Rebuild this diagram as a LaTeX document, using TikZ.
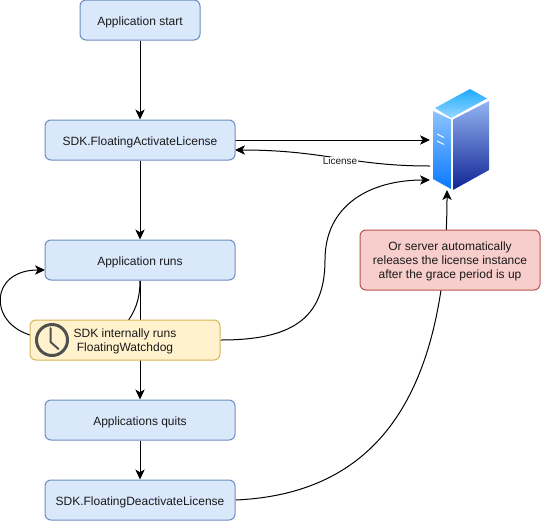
\documentclass[tikz,border=0pt]{standalone}
\usepackage{fontspec}
\setmainfont{Liberation Sans}
\usetikzlibrary{arrows.meta,backgrounds}
\definecolor{bluefill}{HTML}{DAE8FC}
\definecolor{blueline}{HTML}{6C8EBF}
\definecolor{yelfill}{HTML}{FFF2CC}
\definecolor{yelline}{HTML}{D6B656}
\definecolor{redfill}{HTML}{F8CECC}
\definecolor{redline}{HTML}{B85450}
\definecolor{txt}{HTML}{1A1A1A}
\definecolor{clockc}{HTML}{505050}
\tikzset{
 boxbase/.style={draw,rounded corners=4.5pt,line width=0.75pt,inner sep=0pt,align=center,text=txt,font=\fontsize{9}{10.5}\selectfont,minimum height=30pt,minimum width=142.5pt},
 bluebox/.style={boxbase,fill=bluefill,draw=blueline,text height=7.5pt,text depth=0pt},
 yelbox/.style={boxbase,fill=yelfill,draw=yelline},
 redbox/.style={boxbase,fill=redfill,draw=redline,minimum width=135pt,minimum height=45pt},
 boxtext/.style={font=\fontsize{9}{10.5}\selectfont,text=txt,align=center,inner sep=0pt},
 conn/.style={draw=black,line width=0.75pt,-{Stealth[length=7.5pt,width=7pt,inset=2pt]}},
}
\begin{document}
\begin{tikzpicture}[x=0.75pt,y=-0.75pt]
\useasboundingbox (0,0) rectangle (541,521);
\node[bluebox,minimum width=90pt] (start) at (140,20) {Application start};
\node[bluebox] (activate) at (140,140) {SDK.FloatingActivateLicense};
\node[bluebox] (runs) at (140,260) {Application runs};
\node[yelbox] (watch) at (125,340) {};
\node[boxtext] (watchtext) at (125,341) {SDK internally runs\\FloatingWatchdog};
\node[bluebox] (quits) at (140,420) {Applications quits};
\node[bluebox] (deact) at (140,500) {SDK.FloatingDeactivateLicense};
\node[redbox] (red) at (450,260) {};
\node[boxtext] (redtext) at (450,261) {Or server automatically\\releases the license instance\\after the grace period is up};
% server
\path[top color={rgb,255:red,140;green,196;blue,255},bottom color={rgb,255:red,10;green,120;blue,255}] (433,111) -- (451,119.5) -- (451,189) -- (433,179) -- cycle;
\path[top color={rgb,255:red,146;green,180;blue,240},bottom color={rgb,255:red,16;green,36;blue,150}] (453,119.5) -- (489,101) -- (489,170) -- (453,190) -- cycle;
\path[top color={rgb,255:red,30;green,170;blue,255},bottom color={rgb,255:red,150;green,215;blue,255}] (435,108) -- (470,89) -- (487,98.5) -- (451,118) -- cycle;
\draw[white,line width=0.75pt] (437,134) -- (444,137.5) (437,141) -- (444,144.5);
\node[minimum width=42pt,minimum height=76pt,inner sep=0pt] (server) at (461,139.5) {};
% clock
\draw[clockc,line width=2.25pt,fill=none] (52,340) circle[radius=15.5];
\draw[clockc,line width=1.5pt,line cap=round,line join=round] (50.5,328) -- (50.5,342) -- (58.5,349);
\begin{pgfonlayer}{background}
\fill[white] (0,0) rectangle (541,521);
\coordinate (acta) at (235,140);
\coordinate (srva) at (430,140);
\coordinate (srvb) at (430,166);
\coordinate (actb) at (235,150);
\coordinate (srvc) at (430,180);
\coordinate (srvd) at (447,190);
\coordinate (runsl) at (45,270);
\draw[conn] (start.south) -- (activate.north);
\draw[conn] (activate.south) -- (runs.north);
\draw[conn] (runs.south) -- (quits.north);
\draw[conn] (quits.south) -- (deact.north);
\draw[conn] (acta) -- (srva);
\draw[conn] (srvb) .. controls (350,166) and (325,150) .. (actb);
\draw[conn] (runs.south) .. controls (140,300) and (135,312) .. (125,325) .. controls (115,337) and (60,345) .. (30,335) .. controls (-12,322) and (-10,270) .. (runsl);
\draw[conn] (watch.east) .. controls (290,340) and (325,320) .. (325,260) .. controls (325,205) and (370,180) .. (srvc);
\draw[conn] (deact.east) .. controls (350,495) and (420,430) .. (441,290) .. controls (444,270) and (447,235) .. (srvd);
\end{pgfonlayer}
\node[fill=white,inner sep=0.5pt,font=\fontsize{7.5}{9}\selectfont,text=txt] (lic) at (340,161) {License};
\end{tikzpicture}
\end{document}
